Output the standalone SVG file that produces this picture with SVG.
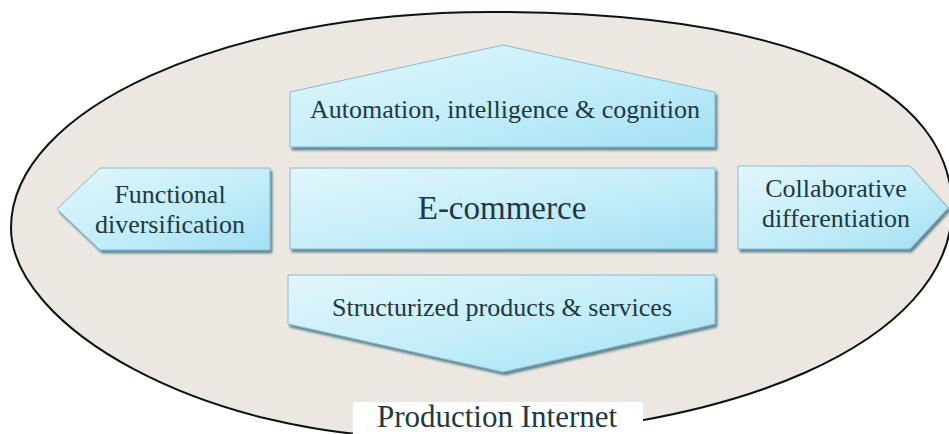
<svg xmlns="http://www.w3.org/2000/svg" width="949" height="434" viewBox="0 0 949 434">
<defs>
<linearGradient id="g" x1="0" y1="0" x2="1" y2="1">
<stop offset="0" stop-color="#e2f6fb"/>
<stop offset="0.5" stop-color="#c6eef9"/>
<stop offset="1" stop-color="#a3e0f4"/>
</linearGradient>
<filter id="sh" x="-10%" y="-10%" width="130%" height="140%">
<feDropShadow dx="2" dy="3" stdDeviation="1" flood-color="#4d7888" flood-opacity="0.85"/>
</filter>
</defs>
<style>
.box{fill:url(#g);stroke:#86bccb;stroke-width:1;filter:url(#sh)}
.t{font-family:"Liberation Serif","Times New Roman",serif;fill:#213842;text-anchor:middle}
</style>
<rect x="0" y="0" width="949" height="434" fill="#ffffff"/>
<g id="production-internet">
<path d="M490,12 C800,12 952,90 952,208 C952,340 735,438 430,438 C200,438 11,325 11,228 C11,109 225,12 490,12 Z" fill="#ece8e1" stroke="#111" stroke-width="2"/>
<rect x="353" y="402" width="290" height="34" fill="#ffffff"/>
<text class="t" x="497" y="427" font-size="31">Production Internet</text>
</g>
<g id="automation">
<path class="box" d="M290,147 L290,92 L503,45 L715,92 L715,147 Z"/>
<text class="t" x="505" y="118" font-size="26">Automation, intelligence &amp; cognition</text>
</g>
<g id="ecommerce">
<rect class="box" x="290" y="168" width="425" height="81"/>
<text class="t" x="502" y="219" font-size="33">E-commerce</text>
</g>
<g id="functional">
<path class="box" d="M270,168 L100,168 L57,209 L100,250 L270,250 Z"/>
<text class="t" x="170" y="203" font-size="26">Functional</text>
<text class="t" x="170" y="233" font-size="26">diversification</text>
</g>
<g id="collaborative">
<path class="box" d="M738,166 L910,166 L948,208 L910,249 L738,249 Z"/>
<text class="t" x="836" y="197" font-size="26">Collaborative</text>
<text class="t" x="836" y="227" font-size="26">differentiation</text>
</g>
<g id="structurized">
<path class="box" d="M288,275 L715,275 L715,324 L503,372 L288,324 Z"/>
<text class="t" x="502" y="316" font-size="26">Structurized products &amp; services</text>
</g>
<g id="connectors"/>
</svg>
